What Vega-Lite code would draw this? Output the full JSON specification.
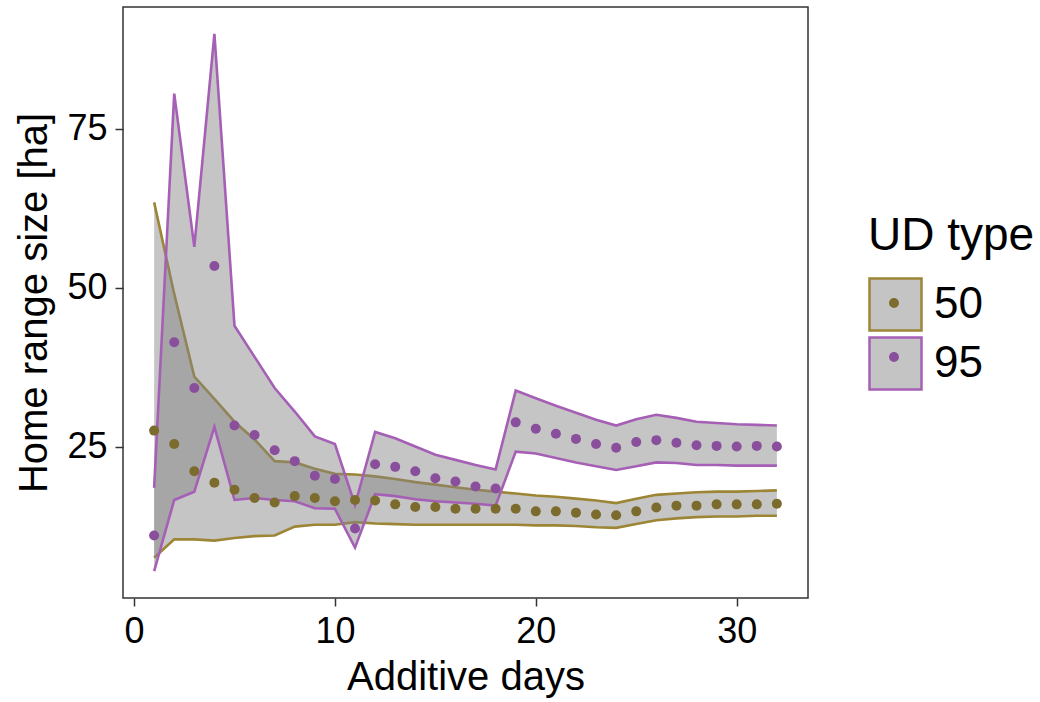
{
  "$schema": "https://vega.github.io/schema/vega-lite/v6.json",
  "autosize": {"type": "none"},
  "width": 685,
  "height": 591,
  "padding": {"left": 123, "top": 7, "right": 232, "bottom": 104},
  "background": "white",
  "data": {"values": [
    {"day":1,"type":"50","mean":27.5,"lo":7.5,"hi":63.4},
    {"day":2,"type":"50","mean":25.4,"lo":10.4,"hi":49.0},
    {"day":3,"type":"50","mean":21.1,"lo":10.4,"hi":36.0},
    {"day":4,"type":"50","mean":19.3,"lo":10.2,"hi":32.5},
    {"day":5,"type":"50","mean":18.2,"lo":10.6,"hi":28.9},
    {"day":6,"type":"50","mean":16.9,"lo":10.9,"hi":26.1},
    {"day":7,"type":"50","mean":16.2,"lo":11.0,"hi":22.7},
    {"day":8,"type":"50","mean":17.2,"lo":12.4,"hi":22.5},
    {"day":9,"type":"50","mean":16.9,"lo":12.7,"hi":21.5},
    {"day":10,"type":"50","mean":16.4,"lo":12.7,"hi":20.7},
    {"day":11,"type":"50","mean":16.6,"lo":13.1,"hi":20.6},
    {"day":12,"type":"50","mean":16.5,"lo":12.9,"hi":20.3},
    {"day":13,"type":"50","mean":15.9,"lo":12.8,"hi":19.9},
    {"day":14,"type":"50","mean":15.5,"lo":12.7,"hi":19.4},
    {"day":15,"type":"50","mean":15.5,"lo":12.7,"hi":19.0},
    {"day":16,"type":"50","mean":15.2,"lo":12.7,"hi":18.6},
    {"day":17,"type":"50","mean":15.2,"lo":12.7,"hi":18.2},
    {"day":18,"type":"50","mean":15.2,"lo":12.7,"hi":17.9},
    {"day":19,"type":"50","mean":15.2,"lo":12.7,"hi":17.6},
    {"day":20,"type":"50","mean":14.8,"lo":12.6,"hi":17.3},
    {"day":21,"type":"50","mean":14.8,"lo":12.6,"hi":17.1},
    {"day":22,"type":"50","mean":14.6,"lo":12.5,"hi":16.8},
    {"day":23,"type":"50","mean":14.3,"lo":12.3,"hi":16.5},
    {"day":24,"type":"50","mean":14.2,"lo":12.2,"hi":16.1},
    {"day":25,"type":"50","mean":14.8,"lo":12.8,"hi":16.8},
    {"day":26,"type":"50","mean":15.4,"lo":13.4,"hi":17.4},
    {"day":27,"type":"50","mean":15.7,"lo":13.7,"hi":17.6},
    {"day":28,"type":"50","mean":15.7,"lo":13.9,"hi":17.8},
    {"day":29,"type":"50","mean":15.9,"lo":14.0,"hi":17.9},
    {"day":30,"type":"50","mean":15.9,"lo":14.0,"hi":17.9},
    {"day":31,"type":"50","mean":15.9,"lo":14.1,"hi":18.0},
    {"day":32,"type":"50","mean":16.0,"lo":14.1,"hi":18.1},
    {"day":1,"type":"95","mean":11.0,"lo":5.4,"hi":18.5},
    {"day":2,"type":"95","mean":41.4,"lo":16.6,"hi":80.5},
    {"day":3,"type":"95","mean":34.2,"lo":17.9,"hi":56.4},
    {"day":4,"type":"95","mean":53.4,"lo":28.1,"hi":89.9},
    {"day":5,"type":"95","mean":28.3,"lo":16.6,"hi":44.0},
    {"day":6,"type":"95","mean":26.8,"lo":16.9,"hi":39.1},
    {"day":7,"type":"95","mean":24.4,"lo":16.6,"hi":34.2},
    {"day":8,"type":"95","mean":22.7,"lo":16.4,"hi":30.5},
    {"day":9,"type":"95","mean":20.4,"lo":15.3,"hi":26.6},
    {"day":10,"type":"95","mean":19.9,"lo":15.2,"hi":25.4},
    {"day":11,"type":"95","mean":12.1,"lo":9.1,"hi":15.8},
    {"day":12,"type":"95","mean":22.2,"lo":17.5,"hi":27.3},
    {"day":13,"type":"95","mean":21.8,"lo":17.2,"hi":26.3},
    {"day":14,"type":"95","mean":21.1,"lo":16.7,"hi":25.0},
    {"day":15,"type":"95","mean":20.0,"lo":16.4,"hi":23.7},
    {"day":16,"type":"95","mean":19.5,"lo":16.2,"hi":22.9},
    {"day":17,"type":"95","mean":18.7,"lo":16.0,"hi":22.1},
    {"day":18,"type":"95","mean":18.4,"lo":15.7,"hi":21.4},
    {"day":19,"type":"95","mean":28.8,"lo":24.2,"hi":33.8},
    {"day":20,"type":"95","mean":27.8,"lo":23.9,"hi":32.6},
    {"day":21,"type":"95","mean":27.0,"lo":23.2,"hi":31.4},
    {"day":22,"type":"95","mean":26.2,"lo":22.5,"hi":30.3},
    {"day":23,"type":"95","mean":25.4,"lo":21.9,"hi":29.2},
    {"day":24,"type":"95","mean":24.8,"lo":21.3,"hi":28.3},
    {"day":25,"type":"95","mean":25.7,"lo":21.9,"hi":29.3},
    {"day":26,"type":"95","mean":26.0,"lo":22.5,"hi":30.0},
    {"day":27,"type":"95","mean":25.6,"lo":22.4,"hi":29.5},
    {"day":28,"type":"95","mean":25.2,"lo":22.1,"hi":28.9},
    {"day":29,"type":"95","mean":25.1,"lo":22.1,"hi":28.7},
    {"day":30,"type":"95","mean":25.0,"lo":22.0,"hi":28.5},
    {"day":31,"type":"95","mean":25.1,"lo":22.0,"hi":28.4},
    {"day":32,"type":"95","mean":25.0,"lo":22.0,"hi":28.3}
  ]},
  "encoding": {
    "x": {"field": "day", "type": "quantitative",
      "scale": {"domain": [-0.55, 33.55], "nice": false, "zero": false},
      "axis": {"values": [0, 10, 20, 30], "title": "Additive days", "titlePadding": 8}}
  },
  "layer": [
    {"transform": [{"filter": "datum.type == '50'"}],
     "mark": {"type": "area", "fill": "#838383", "opacity": 0.47, "stroke": null},
     "encoding": {
       "y": {"field": "lo", "type": "quantitative", "scale": {"domain": [1.175, 94.125], "nice": false, "zero": false},
             "axis": {"values": [25, 50, 75], "title": "Home range size [ha]", "titlePadding": 12}},
       "y2": {"field": "hi"}}},
    {"transform": [{"filter": "datum.type == '50'"}],
     "mark": {"type": "line", "strokeWidth": 2.6},
     "encoding": {"y": {"field": "hi", "type": "quantitative", "title": "Home range size [ha]"},
       "color": {"field": "type", "type": "nominal"}}},
    {"transform": [{"filter": "datum.type == '50'"}],
     "mark": {"type": "line", "strokeWidth": 2.6},
     "encoding": {"y": {"field": "lo", "type": "quantitative", "title": "Home range size [ha]"},
       "color": {"field": "type", "type": "nominal"}}},
    {"transform": [{"filter": "datum.type == '95'"}],
     "mark": {"type": "area", "fill": "#838383", "opacity": 0.47, "stroke": null},
     "encoding": {
       "y": {"field": "lo", "type": "quantitative", "title": "Home range size [ha]"},
       "y2": {"field": "hi"}}},
    {"transform": [{"filter": "datum.type == '95'"}],
     "mark": {"type": "line", "strokeWidth": 2.6},
     "encoding": {"y": {"field": "hi", "type": "quantitative", "title": "Home range size [ha]"},
       "color": {"field": "type", "type": "nominal"}}},
    {"transform": [{"filter": "datum.type == '95'"}],
     "mark": {"type": "line", "strokeWidth": 2.6},
     "encoding": {"y": {"field": "lo", "type": "quantitative", "title": "Home range size [ha]"},
       "color": {"field": "type", "type": "nominal",
         "scale": {"domain": ["50", "95"], "range": ["#9c8535", "#a560b6"]},
         "legend": {"title": "UD type", "orient": "none", "legendX": 745, "legendY": 207,
           "symbolType": "square", "symbolSize": 2704, "symbolStrokeWidth": 2.5, "symbolFillColor": "#c4c4c4",
           "titleFontSize": 46, "titlePadding": 17, "labelFontSize": 44, "labelOffset": 11, "rowPadding": -5,
           "encode": {"symbols": {"update": {"fill": {"value": "#c4c4c4"}, "fillOpacity": {"value": 1}, "strokeWidth": {"value": 2.5}, "opacity": {"value": 1}}}}}}}},
    {"mark": {"type": "point", "filled": true, "opacity": 1, "size": 100},
     "encoding": {"y": {"field": "mean", "type": "quantitative", "title": "Home range size [ha]"},
       "fill": {"field": "type", "type": "nominal",
         "scale": {"range": ["#7b6b2d", "#8a4f9c"]},
         "legend": {"title": " ", "orient": "none", "legendX": 745, "legendY": 207,
           "symbolType": "M-1.05,-1.05L-1.049,-1.05L-1.05,-1.049ZM1.05,1.05L1.049,1.05L1.05,1.049ZM0.19,0A0.19,0.19,0,1,1,-0.19,0A0.19,0.19,0,1,1,0.19,0Z",
           "symbolSize": 2704, "symbolStrokeWidth": 0, "symbolOpacity": 1,
           "titleFontSize": 46, "titlePadding": 17, "labelFontSize": 44, "labelOffset": 11, "labelExpr": "''", "rowPadding": -5}}}}
  ],
  "config": {
    "font": "Liberation Sans",
    "view": {"stroke": "#333333", "strokeWidth": 1.5},
    "axis": {"grid": false, "domain": false, "labelFontSize": 36, "labelColor": "#000000", "titleFontSize": 40,
      "titleFontWeight": "normal", "titleColor": "#000000", "tickColor": "#333333", "tickSize": 8, "tickWidth": 1.5, "labelPadding": 8,
      "labelFont": "Liberation Sans", "titleFont": "Liberation Sans"},
    "legend": {"titleFontWeight": "normal", "titleColor": "#000000", "labelColor": "#000000", "titleFont": "Liberation Sans", "labelFont": "Liberation Sans"}
  }
}
